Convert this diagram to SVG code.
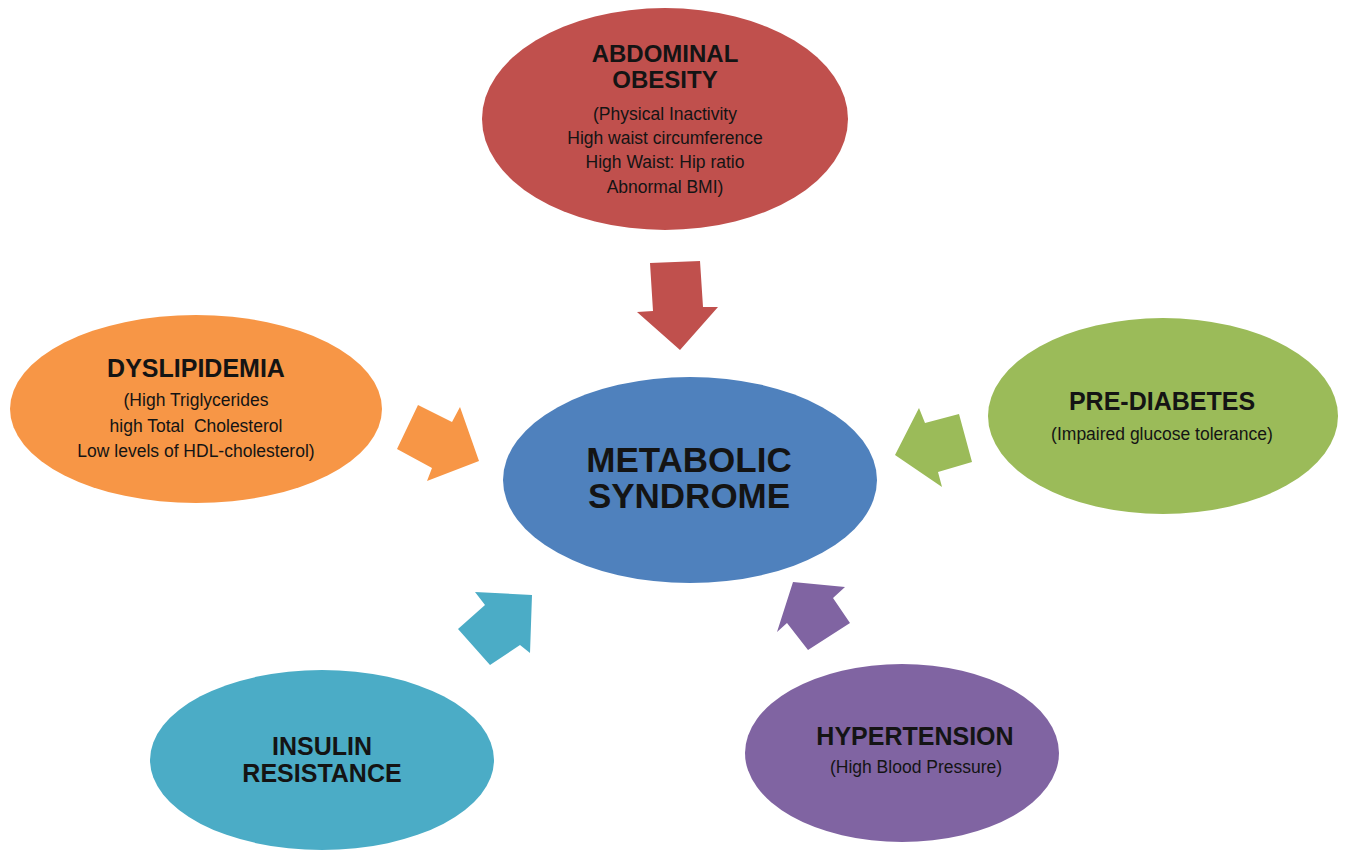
<svg xmlns="http://www.w3.org/2000/svg" width="1347" height="851" viewBox="0 0 1347 851">
<style>
  text { font-family: "Liberation Sans", Arial, sans-serif; fill: #141414; text-anchor: middle; }
  .t { font-size: 25px; font-weight: bold; }
  .t2 { font-size: 24px; font-weight: bold; }
  .big { font-size: 35px; font-weight: bold; }
  .s { font-size: 17.5px; white-space: pre; }
</style>
<rect width="1347" height="851" fill="#ffffff"/>
<g id="connectors">
  <polygon points="650,263 700,261 703,307 718,307 680,350 637,312 653,311" fill="#C0504D"/>
  <polygon points="418,405 452,422 460,407 479,461 427,481 432,468 397,449" fill="#F79646"/>
  <polygon points="895,455 919,408 925,423 959,414 972,462 938,472 942,487" fill="#9BBB59"/>
  <polygon points="475,592 532,595 530,653 520,645 490,665 458,629 485,605" fill="#4BACC6"/>
  <polygon points="793,582 845,587 833,598 850,623 808,650 787,623 777,632" fill="#8064A2"/>
</g>
<g id="abdominal-obesity">
  <ellipse cx="665" cy="119" rx="183" ry="111" fill="#C0504D"/>
  <text class="t2" x="665" y="62">ABDOMINAL</text>
  <text class="t2" x="665" y="88">OBESITY</text>
  <text class="s" x="665" y="120">(Physical Inactivity</text>
  <text class="s" x="665" y="144">High waist circumference</text>
  <text class="s" x="665" y="168">High Waist: Hip ratio</text>
  <text class="s" x="665" y="193">Abnormal BMI)</text>
</g>
<g id="dyslipidemia">
  <ellipse cx="196" cy="409" rx="186" ry="94" fill="#F79646"/>
  <text class="t" x="196" y="377">DYSLIPIDEMIA</text>
  <text class="s" x="196" y="406">(High Triglycerides</text>
  <text class="s" x="196" y="432">high Total  Cholesterol</text>
  <text class="s" x="196" y="457">Low levels of HDL-cholesterol)</text>
</g>
<g id="metabolic-syndrome">
  <ellipse cx="690" cy="480" rx="187" ry="103" fill="#4F81BD"/>
  <text class="big" x="689" y="472">METABOLIC</text>
  <text class="big" x="689" y="508">SYNDROME</text>
</g>
<g id="pre-diabetes">
  <ellipse cx="1163" cy="416" rx="175" ry="98" fill="#9BBB59"/>
  <text class="t" x="1162" y="410">PRE-DIABETES</text>
  <text class="s" x="1162" y="440">(Impaired glucose tolerance)</text>
</g>
<g id="insulin-resistance">
  <ellipse cx="322" cy="760" rx="172" ry="90" fill="#4BACC6"/>
  <text class="t" x="322" y="755">INSULIN</text>
  <text class="t" x="322" y="782">RESISTANCE</text>
</g>
<g id="hypertension">
  <ellipse cx="902" cy="753" rx="157" ry="89" fill="#8064A2"/>
  <text class="t" x="915" y="745">HYPERTENSION</text>
  <text class="s" x="916" y="773">(High Blood Pressure)</text>
</g>
</svg>
